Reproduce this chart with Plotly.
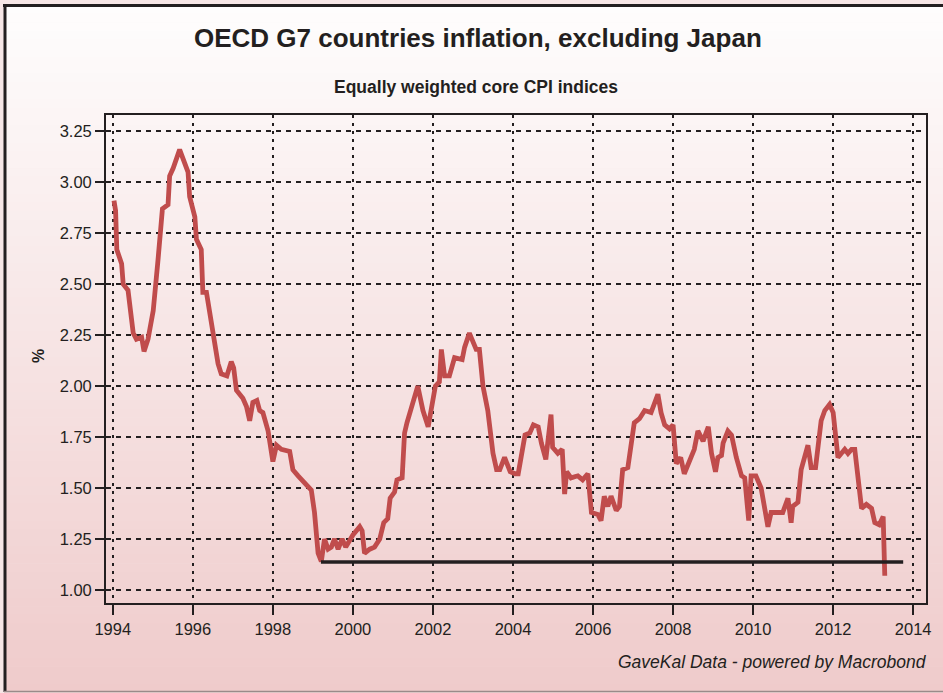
import plotly.graph_objects as go

# ---- data ----
years = [1994.03, 1994.07, 1994.10, 1994.22, 1994.26, 1994.38, 1994.51, 1994.59, 1994.72, 1994.78,
         1994.88, 1995.01, 1995.13, 1995.24, 1995.38, 1995.42, 1995.51, 1995.67, 1995.88, 1995.92,
         1996.05, 1996.09, 1996.21, 1996.25, 1996.34, 1996.50, 1996.63, 1996.71, 1996.85, 1996.96,
         1997.02, 1997.09, 1997.25, 1997.34, 1997.42, 1997.50, 1997.60, 1997.67, 1997.75, 1997.88,
         1998.00, 1998.09, 1998.21, 1998.42, 1998.50, 1998.63, 1998.79, 1998.96, 1999.04, 1999.13,
         1999.21, 1999.29, 1999.38, 1999.46, 1999.54, 1999.63, 1999.73, 1999.82, 2000.00, 2000.17,
         2000.23, 2000.29, 2000.42, 2000.54, 2000.67, 2000.77, 2000.87, 2000.93, 2001.04, 2001.10,
         2001.23, 2001.29, 2001.35, 2001.62, 2001.75, 2001.88, 2002.06, 2002.16, 2002.21, 2002.29,
         2002.41, 2002.54, 2002.73, 2002.79, 2002.91, 2003.08, 2003.16, 2003.25, 2003.37, 2003.50,
         2003.59, 2003.67, 2003.79, 2003.93, 2004.05, 2004.13, 2004.30, 2004.42, 2004.51, 2004.63,
         2004.71, 2004.82, 2004.95, 2004.99, 2005.12, 2005.23, 2005.29, 2005.34, 2005.45, 2005.62,
         2005.74, 2005.87, 2005.96, 2006.12, 2006.20, 2006.28, 2006.37, 2006.45, 2006.58, 2006.66,
         2006.74, 2006.87, 2007.03, 2007.16, 2007.29, 2007.45, 2007.62, 2007.70, 2007.79, 2007.91,
         2008.00, 2008.08, 2008.19, 2008.28, 2008.53, 2008.62, 2008.75, 2008.88, 2008.96, 2009.06,
         2009.12, 2009.21, 2009.25, 2009.37, 2009.46, 2009.58, 2009.71, 2009.79, 2009.89, 2009.95,
         2010.07, 2010.20, 2010.37, 2010.45, 2010.66, 2010.74, 2010.87, 2010.95, 2010.99, 2011.12,
         2011.20, 2011.37, 2011.45, 2011.56, 2011.70, 2011.79, 2011.91, 2012.00, 2012.12, 2012.29,
         2012.37, 2012.46, 2012.54, 2012.71, 2012.83, 2012.96, 2013.04, 2013.15, 2013.25, 2013.29]
inflation = [2.91, 2.86, 2.67, 2.60, 2.50, 2.47, 2.26, 2.23, 2.24, 2.17,
             2.23, 2.37, 2.62, 2.87, 2.89, 3.03, 3.07, 3.16, 3.05, 2.93,
             2.83, 2.72, 2.67, 2.46, 2.46, 2.27, 2.11, 2.06, 2.05, 2.12,
             2.09, 1.98, 1.94, 1.90, 1.83, 1.92, 1.93, 1.88, 1.87, 1.78,
             1.63, 1.71, 1.69, 1.68, 1.59, 1.56, 1.53, 1.49, 1.38, 1.18,
             1.14, 1.25, 1.20, 1.21, 1.25, 1.20, 1.25, 1.21, 1.27, 1.31,
             1.29, 1.18, 1.20, 1.21, 1.25, 1.33, 1.35, 1.45, 1.48, 1.54,
             1.55, 1.77, 1.82, 2.00, 1.88, 1.80, 2.00, 2.02, 2.18, 2.05,
             2.05, 2.14, 2.13, 2.19, 2.26, 2.18, 2.18, 2.00, 1.88, 1.67,
             1.59, 1.59, 1.65, 1.58, 1.57, 1.57, 1.76, 1.77, 1.81, 1.80,
             1.72, 1.64, 1.86, 1.70, 1.67, 1.69, 1.47, 1.58, 1.55, 1.56,
             1.54, 1.57, 1.38, 1.37, 1.34, 1.46, 1.41, 1.46, 1.39, 1.41,
             1.59, 1.60, 1.82, 1.84, 1.88, 1.87, 1.96, 1.87, 1.81, 1.79,
             1.81, 1.62, 1.65, 1.57, 1.69, 1.78, 1.73, 1.80, 1.67, 1.58,
             1.65, 1.66, 1.72, 1.78, 1.76, 1.65, 1.56, 1.55, 1.34, 1.56,
             1.56, 1.50, 1.31, 1.38, 1.38, 1.38, 1.45, 1.33, 1.41, 1.43,
             1.59, 1.71, 1.60, 1.60, 1.83, 1.88, 1.91, 1.87, 1.65, 1.69,
             1.67, 1.69, 1.69, 1.40, 1.42, 1.40, 1.33, 1.32, 1.36, 1.07]
floor_years = [1999.2, 2013.75]
floor_level = [1.137, 1.137]

x_ticks = [1994, 1996, 1998, 2000, 2002, 2004, 2006, 2008, 2010, 2012, 2014]
y_ticks = [1.00, 1.25, 1.50, 1.75, 2.00, 2.25, 2.50, 2.75, 3.00, 3.25]

title = "OECD G7 countries inflation, excluding Japan"
subtitle = "Equally weighted core CPI indices"
source = "GaveKal Data - powered by Macrobond"

# ---- layout geometry ----
W, H = 943, 693
ML, MR, MT, MB = 106, 17, 115, 90
PW, PH = W - ML - MR, H - MT - MB


def px(x):
    return (x - ML) / PW


def py(y):
    return 1 - (y - MT) / PH


FONT = "Liberation Sans, Arial, sans-serif"
DARK = "#231f20"

fig = go.Figure()
fig.add_trace(go.Scatter(x=years, y=inflation, mode="lines",
                         line=dict(color="#c04c4c", width=4.8),
                         hoverinfo="x+y", showlegend=False))
fig.add_trace(go.Scatter(x=floor_years, y=floor_level, mode="lines",
                         line=dict(color=DARK, width=3.5),
                         hoverinfo="skip", showlegend=False))

# background gradient bands (white at top -> pink at bottom)
shapes = []
top_c = (254, 253, 253)
bot_c = (239, 203, 203)
n = 80
y_start, y_end = 5, 692
for i in range(n):
    t = i / (n - 1)
    c = tuple(round(top_c[k] + (bot_c[k] - top_c[k]) * t) for k in range(3))
    y0 = y_start + (y_end - y_start) * i / n
    y1 = y_start + (y_end - y_start) * (i + 1) / n + 0.6
    shapes.append(dict(type="rect", xref="paper", yref="paper", layer="below",
                       x0=px(4), x1=px(W + 5), y0=py(y0), y1=py(y1),
                       fillcolor="rgb(%d,%d,%d)" % c, line=dict(width=0)))
# outer frame
shapes.append(dict(type="line", xref="paper", yref="paper", layer="above",
                   x0=px(3), x1=px(W + 5), y0=py(5.5), y1=py(5.5),
                   line=dict(color=DARK, width=3)))
shapes.append(dict(type="line", xref="paper", yref="paper", layer="above",
                   x0=px(5), x1=px(5), y0=py(4), y1=py(692),
                   line=dict(color=DARK, width=3)))
shapes.append(dict(type="line", xref="paper", yref="paper", layer="above",
                   x0=px(4), x1=px(W + 5), y0=py(691.5), y1=py(691.5),
                   line=dict(color="#9a8a8a", width=1.5)))

annotations = [
    dict(text="<b>%s</b>" % title, xref="paper", yref="paper", x=px(478), y=py(38),
         xanchor="center", yanchor="middle", showarrow=False,
         font=dict(family=FONT, size=26, color=DARK)),
    dict(text="<b>%s</b>" % subtitle, xref="paper", yref="paper", x=px(476), y=py(87),
         xanchor="center", yanchor="middle", showarrow=False,
         font=dict(family=FONT, size=17.5, color=DARK)),
    dict(text="<b>%</b>", xref="paper", yref="paper", x=px(38), y=py(356),
         xanchor="center", yanchor="middle", showarrow=False, textangle=-90,
         font=dict(family=FONT, size=16, color=DARK)),
    dict(text="<i>%s</i>" % source, xref="paper", yref="paper", x=px(929), y=py(662),
         xanchor="right", yanchor="middle", showarrow=False,
         font=dict(family=FONT, size=17.5, color=DARK)),
]

fig.update_layout(
    width=W, height=H,
    margin=dict(l=ML, r=MR, t=MT, b=MB, pad=0),
    paper_bgcolor="#f6e6e6",
    plot_bgcolor="rgba(0,0,0,0)",
    shapes=shapes,
    annotations=annotations,
    font=dict(family=FONT, size=16, color=DARK),
    xaxis=dict(range=[1993.83, 2014.32], tickmode="array", tickvals=x_ticks,
               ticktext=[str(v) for v in x_ticks],
               showgrid=True, gridcolor=DARK, gridwidth=1.5, griddash="3px,5px",
               zeroline=False, showline=True, linecolor=DARK, linewidth=1.8, mirror=True,
               ticks="outside", ticklen=10, tickwidth=1.5, tickcolor=DARK,
               tickfont=dict(family=FONT, size=16.5, color=DARK)),
    yaxis=dict(range=[0.936, 3.33], tickmode="array", tickvals=y_ticks,
               ticktext=["%.2f" % v for v in y_ticks],
               showgrid=True, gridcolor=DARK, gridwidth=1.5, griddash="5px,5px",
               zeroline=False, showline=True, linecolor=DARK, linewidth=1.8, mirror=True,
               ticks="outside", ticklen=9, tickwidth=1.5, tickcolor=DARK,
               tickfont=dict(family=FONT, size=16.5, color=DARK)),
)

fig.write_html("out.html", config={"displayModeBar": False},
               post_script="document.body.style.margin='0';document.body.style.overflow='hidden';")
